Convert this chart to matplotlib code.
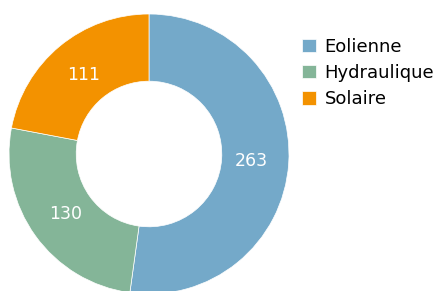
import matplotlib
matplotlib.use("Agg")
import matplotlib.pyplot as plt

labels = ["Eolienne", "Hydraulique", "Solaire"]
values = [263, 130, 111]
colors = ["#74A9C9", "#84B598", "#F39200"]

W, H = 443, 291
fig = plt.figure(figsize=(W / 100, H / 100), dpi=100)
cx, cy, R = 149, 154, 140
ax = fig.add_axes([(cx - R) / W, (H - cy - R) / H, 2 * R / W, 2 * R / H])

wedges, texts = ax.pie(values, colors=colors, startangle=90, counterclock=False,
                       radius=1, wedgeprops=dict(width=0.48, edgecolor="white", linewidth=0.5),
                       labels=[str(v) for v in values], labeldistance=0.73,
                       textprops=dict(color="white", fontsize=12.5, ha="center", va="center"))
ax.set_xlim(-1, 1)
ax.set_ylim(-1, 1)
ax.set_aspect("equal")
ax.axis("off")
for w in wedges:
    w.set_clip_on(False)
for t in texts:
    t.set_ha("center")
    t.set_va("center")

leg = fig.legend(wedges, labels, loc="upper left", bbox_to_anchor=(293 / W, 1 - 29 / H),
                 frameon=False, fontsize=13, handlelength=0.75, handleheight=0.75,
                 handletextpad=0.5, labelspacing=0.45, borderpad=0)
fig.savefig("out.png", dpi=100)
